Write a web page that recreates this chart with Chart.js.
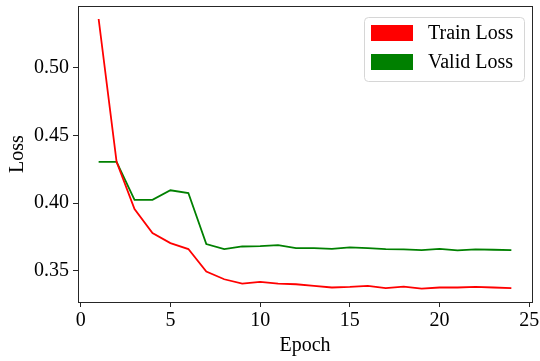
<!DOCTYPE html>
<html lang="en">
<head>
    <meta charset="UTF-8">
    <title>Loss</title>
    <script src="https://cdn.jsdelivr.net/npm/chart.js@4.4.0/dist/chart.umd.min.js"></script>
    <style>
        html, body { margin: 0; padding: 0; background: #fff; }
        #wrap { width: 540px; height: 361px; }
    </style>
</head>
<body>
    <div id="wrap">
        <canvas id="lossChart" width="540" height="361"></canvas>
    </div>

    <script>
        const epochs = [1, 2, 3, 4, 5, 6, 7, 8, 9, 10, 11, 12, 13, 14, 15, 16, 17, 18, 19, 20, 21, 22, 23, 24];
        const trainLoss = [0.536, 0.4305, 0.3957, 0.3779, 0.3705, 0.3661, 0.3495, 0.3438, 0.3406, 0.3419, 0.3406, 0.3401,
                           0.3389, 0.3377, 0.3381, 0.3389, 0.3372, 0.3384, 0.3369, 0.3377, 0.3377, 0.3381, 0.3377, 0.3372];
        const validLoss = [0.4305, 0.4305, 0.4024, 0.4024, 0.4095, 0.4075, 0.3698, 0.3661, 0.3680, 0.3683, 0.3690, 0.3668,
                           0.3668, 0.3663, 0.3673, 0.3668, 0.3661, 0.3658, 0.3653, 0.3663, 0.3651, 0.3658, 0.3656, 0.3653];
        const xTicks = [0, 5, 10, 15, 20, 25];
        const yTicks = [0.35, 0.40, 0.45, 0.50];

        const serif = "'Liberation Serif', 'DejaVu Serif', serif";
        const axisColor = '#262626';

        // box round the plot area (top and right edges included)
        const frame = {
            id: 'frame',
            afterDatasetsDraw(chart) {
                const a = chart.chartArea;
                const ctx = chart.ctx;
                ctx.save();
                ctx.strokeStyle = axisColor;
                ctx.lineWidth = 1;
                ctx.strokeRect(Math.round(a.left) + 0.5, Math.round(a.top) + 0.5,
                    Math.round(a.right - a.left), Math.round(a.bottom - a.top));
                ctx.restore();
            }
        };

        // legend in the upper right corner, drawn from the datasets
        const cornerLegend = {
            id: 'cornerLegend',
            afterDraw(chart) {
                const a = chart.chartArea;
                const ctx = chart.ctx;
                const w = 160, h = 64;
                const x = a.right - 8 - w, y = a.top + 11;
                ctx.save();
                ctx.beginPath();
                ctx.roundRect(x + 0.5, y + 0.5, w, h, 4);
                ctx.fillStyle = 'rgba(255,255,255,0.8)';
                ctx.fill();
                ctx.strokeStyle = '#d6d6d6';
                ctx.lineWidth = 1;
                ctx.stroke();
                ctx.font = '20px ' + serif;
                ctx.textBaseline = 'middle';
                chart.data.datasets.forEach((ds, i) => {
                    const cy = y + 16 + i * 29;
                    ctx.fillStyle = ds.borderColor;
                    ctx.fillRect(x + 7, cy - 8, 42, 16);
                    ctx.fillStyle = '#000';
                    ctx.fillText(ds.label, x + 64, cy + 1);
                });
                ctx.restore();
            }
        };

        const ctx = document.getElementById('lossChart');
        const lossChart = new Chart(ctx, {
            type: 'line',
            data: {
                datasets: [{
                    label: 'Train Loss',
                    data: epochs.map((e, i) => ({x: e, y: trainLoss[i]})),
                    borderColor: '#ff0000',
                    backgroundColor: '#ff0000',
                    borderWidth: 1.8,
                    pointRadius: 0,
                    tension: 0
                }, {
                    label: 'Valid Loss',
                    data: epochs.map((e, i) => ({x: e, y: validLoss[i]})),
                    borderColor: '#008000',
                    backgroundColor: '#008000',
                    borderWidth: 1.8,
                    pointRadius: 0,
                    tension: 0
                }]
            },
            options: {
                responsive: false,
                animation: false,
                layout: { padding: { left: 0, top: 6, right: 8, bottom: 0 } },
                plugins: {
                    legend: { display: false },
                    tooltip: { enabled: false }
                },
                scales: {
                    x: {
                        type: 'linear',
                        min: -0.15,
                        max: 25.15,
                        afterBuildTicks: (s) => { s.ticks = xTicks.map(v => ({value: v})); },
                        afterFit: (s) => { s.height = 59; s.paddingLeft = 0; s.paddingRight = 0; },
                        ticks: {
                            color: '#000',
                            font: { family: serif, size: 20 },
                            padding: 2,
                            maxRotation: 0,
                            callback: (v) => String(v)
                        },
                        grid: { drawOnChartArea: false, drawTicks: true, tickLength: 5, tickColor: axisColor, color: axisColor },
                        border: { display: true, color: axisColor },
                        title: {
                            display: true,
                            text: 'Epoch',
                            color: '#000',
                            font: { family: serif, size: 20 },
                            padding: { top: 0, bottom: 3 }
                        }
                    },
                    y: {
                        min: 0.327,
                        max: 0.5456,
                        afterBuildTicks: (s) => { s.ticks = yTicks.map(v => ({value: v})); },
                        afterFit: (s) => { s.width = 78; s.paddingTop = 0; s.paddingBottom = 0; },
                        ticks: {
                            color: '#000',
                            font: { family: serif, size: 20 },
                            padding: 4,
                            callback: (v) => Number(v).toFixed(2)
                        },
                        grid: { drawOnChartArea: false, drawTicks: true, tickLength: 5, tickColor: axisColor, color: axisColor },
                        border: { display: true, color: axisColor },
                        title: {
                            display: true,
                            text: 'Loss',
                            color: '#000',
                            font: { family: serif, size: 20 },
                            padding: { top: 6, bottom: 0 }
                        }
                    }
                }
            },
            plugins: [frame, cornerLegend]
        });
    </script>
</body>
</html>
